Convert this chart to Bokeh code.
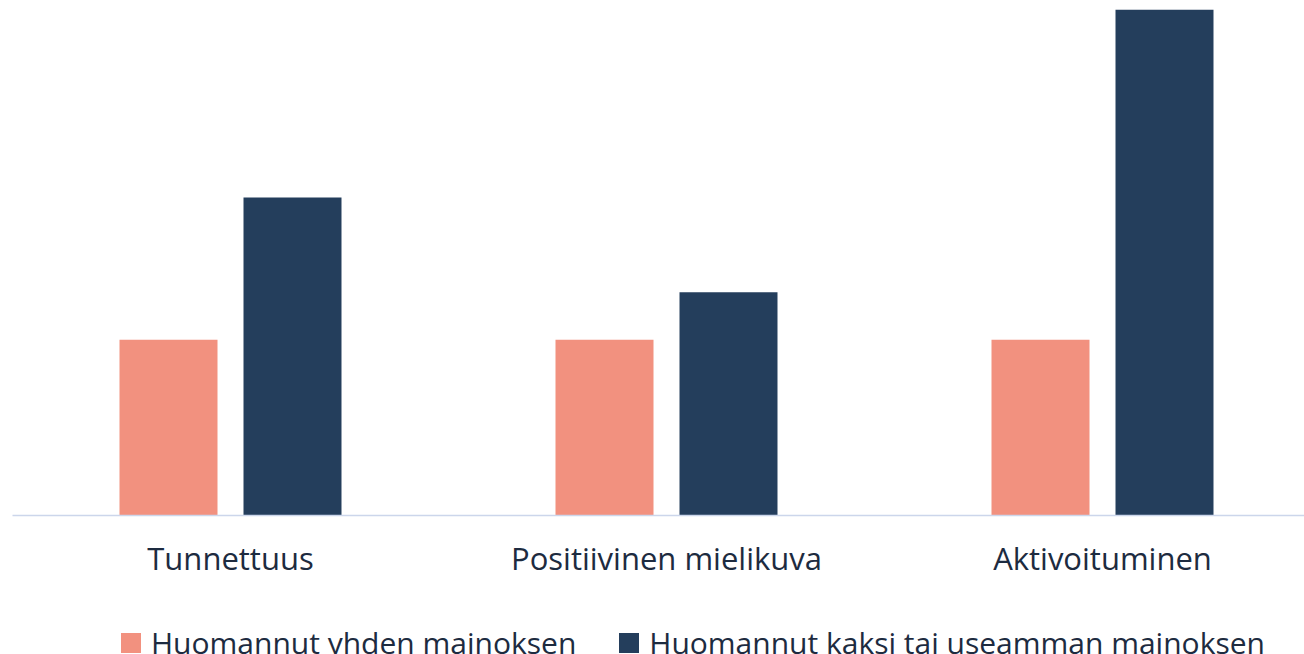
from bokeh.plotting import figure
from bokeh.models import Range1d, FixedTicker, Legend, LegendItem
from bokeh.layouts import column
from bokeh.embed import file_html
from bokeh.resources import INLINE

categories = ["Tunnettuus", "Positiivinen mielikuva", "Aktivoituminen"]
series_names = ["Huomannut yhden mainoksen", "Huomannut kaksi tai useamman mainoksen"]
one_ad = [100, 100, 100]
multi_ad = [181, 127, 288]
colors = ["#f2917f", "#243e5c"]

FONT = "Open Sans"
TEXT_COLOR = "#1d2b40"

xs = list(range(len(categories)))
p = figure(width=1304, height=600, output_backend="svg", toolbar_location=None,
           x_range=Range1d(-0.5, -0.5 + 1292 / 436), y_range=Range1d(0, 288),
           min_border_left=12, min_border_right=0, min_border_top=9, min_border_bottom=85)
p.outline_line_color = None
p.xgrid.visible = False
p.ygrid.visible = False
p.yaxis.visible = False
p.background_fill_color = "white"
p.border_fill_color = "white"

off = 0.1422
bw = 98 / 436
p.vbar(x=[x - off for x in xs], top=one_ad, width=bw, color=colors[0], line_color=None)
p.vbar(x=[x + off for x in xs], top=multi_ad, width=bw, color=colors[1], line_color=None)

ax = p.xaxis[0]
ax.ticker = FixedTicker(ticks=xs)
ax.major_label_overrides = {i: c for i, c in enumerate(categories)}
ax.axis_line_color = "#ccd6eb"
ax.axis_line_width = 1.5
ax.major_tick_line_color = None
ax.minor_tick_line_color = None
ax.major_label_text_font = FONT
ax.major_label_text_font_size = "31px"
ax.major_label_text_color = TEXT_COLOR
ax.major_label_standoff = 15

# legend strip below the chart (zero-height swatch renderers)
lg = figure(width=1304, height=54, output_backend="svg", toolbar_location=None,
            x_range=Range1d(0, 1), y_range=Range1d(0, 1),
            min_border_left=0, min_border_right=0, min_border_top=0, min_border_bottom=0)
lg.axis.visible = False
lg.grid.visible = False
lg.outline_line_color = None
lg.background_fill_color = "white"
lg.border_fill_color = "white"
d1 = lg.vbar(x=[0.5], top=[0], bottom=[0], width=0.1, color=colors[0], line_color=None)
d2 = lg.vbar(x=[0.5], top=[0], bottom=[0], width=0.1, color=colors[1], line_color=None)

legend = Legend(items=[LegendItem(label=series_names[0], renderers=[d1]),
                       LegendItem(label=series_names[1], renderers=[d2])],
                orientation="horizontal", location=(106, -9),
                glyph_width=25, glyph_height=25, label_standoff=8, spacing=40,
                padding=0, margin=0, border_line_color=None, background_fill_alpha=0,
                label_text_font=FONT, label_text_font_size="30px", label_text_color=TEXT_COLOR)
lg.add_layout(legend, "center")

layout = column(p, lg, spacing=0)
open("out.html", "w").write(file_html(layout, INLINE))
